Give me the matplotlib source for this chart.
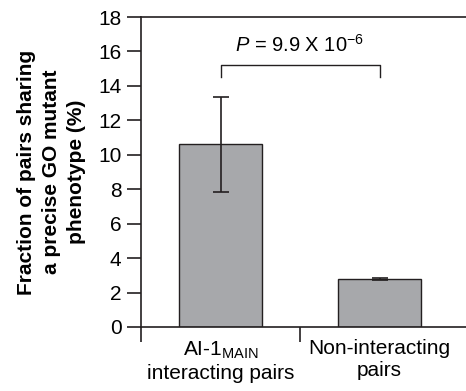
import numpy as np
import matplotlib
matplotlib.use("Agg")
import matplotlib.pyplot as plt

plt.rcParams['font.family'] = ['Liberation Sans', 'DejaVu Sans']
plt.rcParams['mathtext.fontset'] = 'custom'
plt.rcParams['mathtext.rm'] = 'Liberation Sans'
plt.rcParams['mathtext.it'] = 'Liberation Sans:italic'
plt.rcParams['mathtext.bf'] = 'Liberation Sans:bold'

categories = [r"AI-1$_{\mathrm{MAIN}}$" + "\ninteracting pairs", "Non-interacting\npairs"]
fractions = [10.6, 2.79]
errors = [2.77, 0.05]
p_label = r"$P$ = 9.9 X 10$^{-6}$"

ink = '#231f20'
fig = plt.figure(figsize=(4.66, 3.91), dpi=100)
ax = fig.add_axes([0.3026, 0.1637, 0.6974, 0.7928])

x = np.arange(len(categories))
ax.bar(x, fractions, width=0.516, color='#a7a8ab', edgecolor=ink, linewidth=1.0,
       yerr=errors, error_kw=dict(ecolor=ink, elinewidth=1.2, capsize=6, capthick=1.2),
       zorder=2)

ax.set_xlim(-0.5, 1.544)
ax.set_ylim(0, 18)
ax.set_yticks(np.arange(0, 19, 2))
ax.set_xticks(x)
ax.set_xticklabels(categories, fontsize=15, linespacing=1.2)
ax.set_xticks([-0.5, 0.5], minor=True)
ax.tick_params(axis='x', which='major', length=0, pad=9)
ax.tick_params(axis='x', which='minor', length=11, width=1.2, direction='out', color=ink)
ax.tick_params(axis='y', length=10, width=1.2, direction='out', color=ink, labelsize=15, pad=4)

for side in ['left', 'top', 'bottom']:
    ax.spines[side].set_linewidth(1.2)
    ax.spines[side].set_color(ink)
ax.spines['right'].set_visible(False)

ax.set_ylabel("Fraction of pairs sharing\na precise GO mutant\nphenotype (%)",
              fontsize=15, fontweight='bold', linespacing=1.4)
ax.yaxis.set_label_coords(-0.17, 0.5)

# significance bracket
ax.plot([x[0], x[0], x[1], x[1]], [14.5, 15.2, 15.2, 14.5], color=ink, lw=1.0)
ax.text((x[0] + x[1]) / 2, 15.75, p_label, ha='center', va='bottom', fontsize=14.5)

fig.savefig("out.png", dpi=100)
